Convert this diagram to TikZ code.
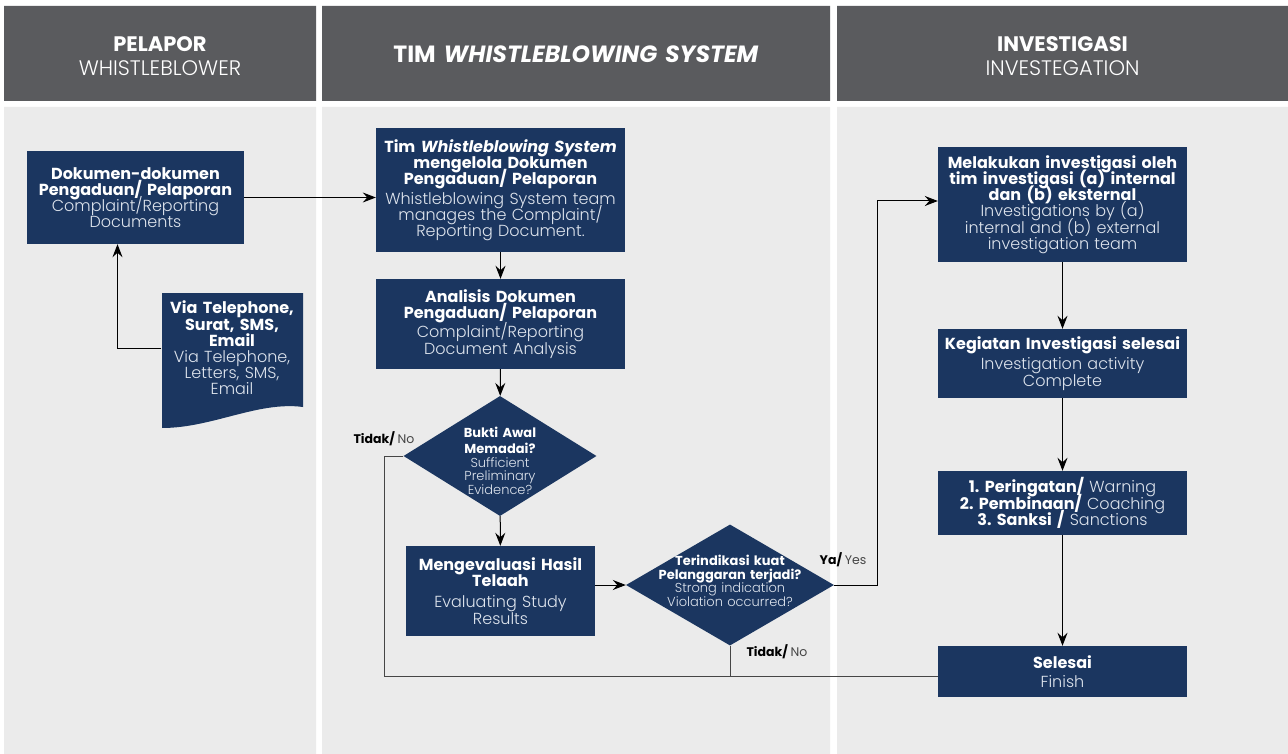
\documentclass[tikz,border=0pt]{standalone}
\usepackage{fontspec}
\setmainfont{Poppins}
\newfontfamily\poplight{Poppins Light}
\usetikzlibrary{shapes.geometric,arrows.meta}
\definecolor{navy}{RGB}{27,54,96}
\definecolor{headgray}{RGB}{90,91,94}
\definecolor{panelgray}{RGB}{235,235,235}
\definecolor{paletext}{RGB}{222,228,237}
\definecolor{linegray}{RGB}{70,70,70}
\newcommand{\lt}{\mdseries\poplight\color{paletext}}
\newcommand{\tightlines}{\lineskiplimit-20pt\relax}
\begin{document}
\begin{tikzpicture}[x=1pt, y=-1pt,
  box/.style={fill=navy, text=white, inner sep=0pt, align=center, font=\fontsize{16}{16.2}\selectfont\tightlines},
  dec/.style={diamond, fill=navy, inner sep=0pt},
  dectext/.style={text=white, inner sep=0pt, align=center, font=\fontsize{13}{13.6}\selectfont\tightlines},
  head/.style={text=white, inner sep=0pt, align=center, font=\fontsize{21}{24}\selectfont},
  arr/.style={draw=black, line width=1pt, -{Stealth[length=13pt,width=10pt,inset=4.5pt]}},
  link/.style={draw=linegray, line width=1pt},
  lab/.style={inner sep=0pt, font=\fontsize{12.5}{14}\selectfont, text=black}]
\useasboundingbox (0,0) rectangle (1288,754);
\fill[headgray] (4,6) rectangle (316,101) (322,6) rectangle (830,101) (837,6) rectangle (1288,101);
\fill[panelgray] (4,107) rectangle (316,754) (322,107) rectangle (830,754) (837,107) rectangle (1288,754);
\node[head, text width=312] (hpel) at (160,56)
  {\bfseries PELAPOR\\ \lt\color{white} WHISTLEBLOWER};
\node[head, text width=508, font=\fontsize{23.5}{26}\selectfont] (htim) at (576,54)
  {\bfseries TIM \textit{WHISTLEBLOWING SYSTEM}};
\node[head, text width=451] (hinv) at (1062.5,56)
  {\bfseries INVESTIGASI\\ \lt\color{white} INVESTEGATION};

\node[box, minimum width=217, text width=217, minimum height=93] (doc) at (135.5,197.5)
  {\bfseries Dokumen-dokumen\\ Pengaduan/ Pelaporan\\ \lt Complaint/Reporting\\ Documents};
\fill[navy] (162,293) -- (303,293) -- (303,407) .. controls (258,401) and (212,428) .. (162,428) -- cycle;
\node[box, fill=none, text width=141] (via) at (232,348)
  {\bfseries Via Telephone,\\ Surat, SMS,\\ Email\\ \lt Via Telephone,\\ Letters, SMS,\\ Email};

\node[box, minimum width=249, text width=249, minimum height=124] (tim) at (500.5,190)
  {\bfseries Tim \textit{Whistleblowing System}\\ mengelola Dokumen\\ Pengaduan/ Pelaporan\\[3.5pt]
   \lt Whistleblowing System team\\ manages the Complaint/\\ Reporting Document.};
\node[box, minimum width=249, text width=249, minimum height=90] (ana) at (500.5,324)
  {\bfseries Analisis Dokumen\\ Pengaduan/ Pelaporan\\[3pt] \lt Complaint/Reporting\\ Document Analysis};
\node[dec, minimum width=193, minimum height=120] (d1) at (500,456) {};
\node[dectext, text width=130] (d1t) at (500,461)
  {\bfseries Bukti Awal\\[2pt] Memadai?\\ \lt Sufficient\\ Preliminary\\ Evidence?};
\node[box, minimum width=189, text width=189, minimum height=90] (eval) at (500.5,591)
  {\bfseries Mengevaluasi Hasil\\ Telaah\\[5pt] \lt Evaluating Study\\ Results};
\node[dec, minimum width=208, minimum height=121] (d2) at (730,585) {};
\node[dectext, text width=170] (d2t) at (730,581)
  {\bfseries Terindikasi kuat\\ Pelanggaran terjadi?\\ \lt Strong indication\\ Violation occurred?};

\node[box, minimum width=249, text width=249, minimum height=115] (inv) at (1062.5,204.5)
  {\bfseries Melakukan investigasi oleh\\ tim investigasi (a) internal\\ dan (b) eksternal\\
   \lt Investigations by (a)\\ internal and (b) external\\ investigation team};
\node[box, minimum width=249, text width=249, minimum height=69] (keg) at (1062.5,363.5)
  {\bfseries Kegiatan Investigasi selesai\\[4pt] \lt Investigation activity\\ Complete};
\node[box, minimum width=249, text width=249, minimum height=64] (sank) at (1062.5,503)
  {\bfseries 1.~Peringatan/ {\lt Warning}\\ 2.~Pembinaan/ {\lt Coaching}\\ 3.~Sanksi / {\lt Sanctions}};
\node[box, minimum width=249, text width=249, minimum height=51] (sel) at (1062.5,671.5)
  {\bfseries Selesai\\[3pt] \lt Finish};

\node[lab] (lno1) at (384,439) {\bfseries Tidak/ {\mdseries\color{linegray}No}};
\node[lab] (lno2) at (777,652) {\bfseries Tidak/ {\mdseries\color{linegray}No}};
\node[lab] (lyes) at (843,560) {\bfseries Ya/ {\mdseries\color{linegray}Yes}};

\coordinate (noline) at (384,676);
\coordinate (yesup) at (877,201);
\draw[arr] (via.west) -| ([xshift=-18pt]doc.south);
\draw[arr] (doc.east) -- (doc.east -| tim.west);
\draw[arr] (tim) -- (ana);
\draw[arr] (ana) -- (d1);
\draw[arr] (d1) -- (eval);
\draw[arr] (d2.west -| eval.east) -- (d2.west);
\draw[arr] (d2.east) -| (yesup) -- (yesup -| inv.west);
\draw[arr] (inv) -- (keg);
\draw[arr] (keg) -- (sank);
\draw[arr] (sank) -- (sel);
\draw[link] (d1.west) -| (noline) -- (noline -| sel.west);
\draw[link] (d2.south) -- (d2.south |- noline);
\end{tikzpicture}
\end{document}
